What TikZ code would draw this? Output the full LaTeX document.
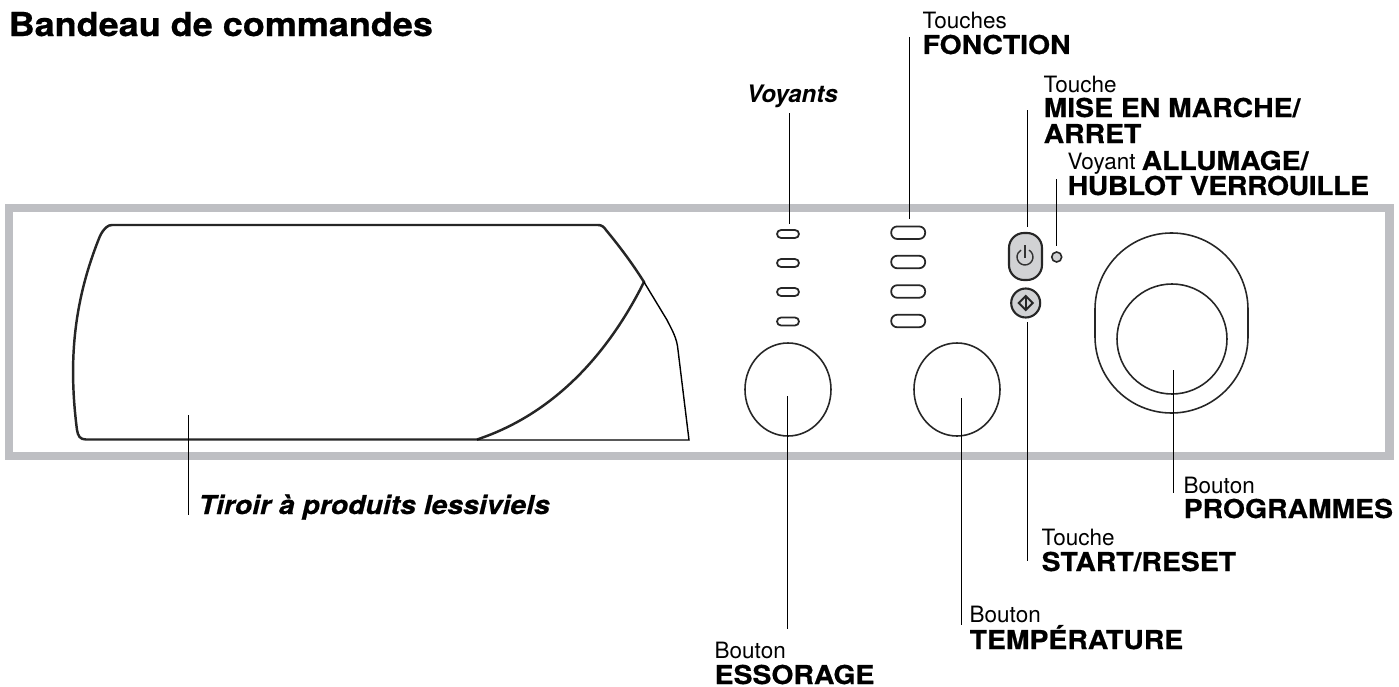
\documentclass[tikz,border=0pt]{standalone}
\usepackage{fontspec}
\setmainfont{TeX Gyre Heros}
\newfontfamily\heavyfont[FakeStretch=1.09,BoldFeatures={FakeBold=0.6},BoldItalicFeatures={FakeBold=0.6}]{TeX Gyre Heros}
\usetikzlibrary{shapes.geometric}
\definecolor{framegray}{RGB}{190,191,195}
\definecolor{keygray}{RGB}{209,210,212}
\tikzset{
	thinlbl/.style={anchor=base west, inner sep=0pt, font=\fontsize{6.4}{7}\selectfont},
	boldlbl/.style={anchor=base west, inner sep=0pt, font=\fontsize{7.4}{8}\heavyfont\bfseries},
	leader/.style={line width=0.28pt},
	outline/.style={line width=0.7pt, draw=black!85},
	ledkey/.style={rectangle, rounded corners=0.04cm, draw=black!85, line width=0.5pt, minimum width=0.22cm, minimum height=0.08cm, inner sep=0pt},
	fnkey/.style={rectangle, rounded corners=0.06cm, draw=black!85, line width=0.5pt, minimum width=0.34cm, minimum height=0.125cm, inner sep=0pt},
	knob/.style={ellipse, draw=black!85, line width=0.45pt, minimum width=0.86cm, minimum height=0.93cm, inner sep=0pt}
}

\begin{document}
\begin{tikzpicture}
	\useasboundingbox (0, 0) rectangle (13.99, -6.87);
	%%%%% PANEL %%%%%
	\draw[framegray, line width=0.085cm] (0.09, -2.08) rectangle (13.895, -4.56);

	% drawer
	\draw[outline] (4.77, -4.395) -- (0.86, -4.395)
		.. controls (0.80, -4.395) and (0.78, -4.36) .. (0.77, -4.30)
		.. controls (0.68, -3.60) and (0.74, -3.00) .. (1.00, -2.36)
		.. controls (1.04, -2.28) and (1.08, -2.25) .. (1.12, -2.25)
		-- (5.98, -2.25) .. controls (6.02, -2.25) and (6.04, -2.27) .. (6.06, -2.30)
		.. controls (6.20, -2.47) and (6.32, -2.63) .. (6.44, -2.82)
		.. controls (5.95, -3.80) and (5.30, -4.22) .. (4.77, -4.395);
	\draw[leader, line width=0.4pt] (6.44, -2.82) -- (6.67, -3.20)
		.. controls (6.72, -3.30) and (6.77, -3.38) .. (6.78, -3.50)
		-- (6.89, -4.40) -- (4.77, -4.40);

	% leds and keys
	\foreach \y/\lid in {2.34/a, 2.63/b, 2.92/c, 3.215/d} {
		\node[ledkey] (led\lid) at (7.88, -\y) {};
	}
	\foreach \y/\kid in {2.327/a, 2.62/b, 2.915/c, 3.21/d} {
		\node[fnkey] (fn\kid) at (9.082, -\y) {};
	}
	\node[knob] (knobspin) at (7.88, -3.895) {};
	\node[knob] (knobtemp) at (9.57, -3.895) {};

	% power and start
	\draw[fill=keygray, draw=black!85, line width=0.6pt, rounded corners=0.15cm] (10.09, -2.33) rectangle (10.42, -2.80);
	\draw[line width=0.4pt, draw=black!80] ({10.25+0.08*cos(60)}, {-2.57+0.08*sin(60)}) arc (60:-240:0.08);
	\draw[line width=0.45pt, draw=black!80] (10.25, -2.45) -- (10.25, -2.58);
	\node[circle, fill=keygray, draw=black!85, line width=0.6pt, minimum size=0.29cm, inner sep=0pt] (startkey) at (10.257, -3.03) {};
	\draw[line width=0.55pt, draw=black!85] (10.257, -2.96) -- (10.327, -3.03) -- (10.257, -3.10) -- (10.187, -3.03) -- cycle;
	\draw[line width=0.55pt, draw=black!85] (10.257, -2.96) -- (10.257, -3.10);
	\node[circle, fill=keygray, draw=black!85, line width=0.45pt, minimum size=0.10cm, inner sep=0pt] (lampon) at (10.567, -2.57) {};

	% big knob
	\draw[line width=0.45pt, draw=black!85] (10.95, -3.365) -- (10.95, -3.095) arc (180:0:0.765) -- (12.48, -3.365) arc (0:-180:0.765);
	\node[circle, draw=black!85, line width=0.45pt, minimum size=1.10cm, inner sep=0pt] (knobprog) at (11.72, -3.39) {};

	%%%%% LEADERS %%%%%
	\coordinate (voyantstop) at (7.89, -1.13);
	\coordinate (voyantsend) at (7.89, -2.24);
	\coordinate (fonctop) at (9.09, -0.37);
	\coordinate (foncend) at (9.09, -2.19);
	\coordinate (misetop) at (10.27, -1.10);
	\coordinate (miseend) at (10.27, -2.27);
	\coordinate (lamptop) at (10.56, -1.79);
	\coordinate (lampend) at (10.56, -2.46);
	\coordinate (starttop) at (10.27, -3.22);
	\coordinate (startend) at (10.27, -5.61);
	\coordinate (spintop) at (7.875, -3.96);
	\coordinate (spinend) at (7.875, -6.29);
	\coordinate (temptop) at (9.61, -3.98);
	\coordinate (tempend) at (9.61, -6.25);
	\coordinate (progtop) at (11.73, -3.70);
	\coordinate (progend) at (11.73, -4.93);
	\coordinate (tiroirtop) at (1.88, -4.15);
	\coordinate (tiroirend) at (1.88, -5.15);
	\foreach \p in {voyants, fonc, mise, lamp, start, spin, temp, prog, tiroir} {
		\draw[leader] (\p top) -- (\p end);
	}

	%%%%% TEXT %%%%%
	\node[boldlbl, font=\fontsize{9.4}{10}\heavyfont\bfseries] (titre) at (0.08, -0.36) {Bandeau de commandes};
	\node[boldlbl, font=\fontsize{6.85}{8}\bfseries\itshape] (voyants) at (7.46, -1.02) {Voyants};
	\node[boldlbl, font=\fontsize{7.4}{8}\heavyfont\bfseries\itshape] (tiroir) at (1.98, -5.14) {Tiroir à produits lessiviels};

	\node[thinlbl] (toucheslbl) at (9.22, -0.29) {Touches};
	\node[boldlbl] (fonction) at (9.22, -0.54) {FONCTION};
	\node[thinlbl] (touchelbl) at (10.43, -0.92) {Touche};
	\node[boldlbl] (mise) at (10.43, -1.17) {MISE EN MARCHE/};
	\node[boldlbl] (arret) at (10.43, -1.43) {ARRET};
	\node[thinlbl] (voyantlbl) at (10.67, -1.70) {Voyant};
	\node[boldlbl] (allumage) at (11.41, -1.70) {ALLUMAGE/};
	\node[boldlbl] (hublot) at (10.67, -1.95) {\addfontfeature{LetterSpace=-1.5}HUBLOT VERROUILLE};
	\node[thinlbl] (startlbl) at (10.41, -5.45) {Touche};
	\node[boldlbl] (start) at (10.41, -5.71) {START/RESET};
	\node[thinlbl] (proglbl) at (11.83, -4.93) {Bouton};
	\node[boldlbl] (programmes) at (11.83, -5.18) {PROGRAMMES};
	\node[thinlbl] (templbl) at (9.69, -6.225) {Bouton};
	\node[boldlbl] (temperature) at (9.69, -6.49) {TEMPÉRATURE};
	\node[thinlbl] (spinlbl) at (7.14, -6.58) {Bouton};
	\node[boldlbl] (essorage) at (7.14, -6.84) {ESSORAGE};
\end{tikzpicture}
\end{document}
